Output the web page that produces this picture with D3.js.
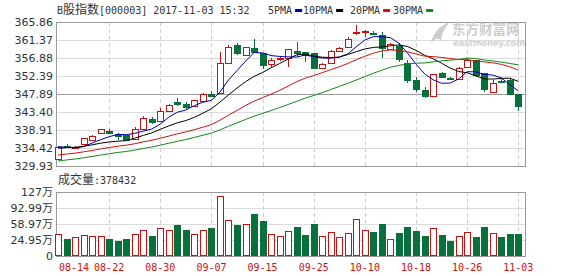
<!doctype html>
<html lang="zh">
<head>
<meta charset="utf-8">
<title>B股指数 日K</title>
<script src="https://d3js.org/d3.v7.min.js"></script>
<style>
    body { margin: 0; background: #fff; }
    svg { display: block; }
    text { font-family: "DejaVu Sans", "Noto Sans CJK SC", sans-serif; font-size: 11px; fill: #333; }
    .mono { font-family: "DejaVu Sans Mono", "Noto Sans CJK SC", monospace; font-size: 10px; }
    .cjk { font-family: "Noto Sans CJK SC", sans-serif; font-size: 12px; }
</style>
</head>
<body>
<div id="chart"></div>
<script>
// trading days shown (MM-DD)
const dates = ["08-14","08-15","08-16","08-17","08-18","08-21","08-22","08-23","08-24","08-25","08-28","08-29","08-30","08-31",
    "09-01","09-04","09-05","09-06","09-07","09-08","09-11","09-12","09-13","09-14","09-15","09-18","09-19","09-20","09-21","09-22",
    "09-25","09-26","09-27","09-28","09-29","10-09","10-10","10-11","10-12","10-13","10-16","10-17","10-18","10-19","10-20",
    "10-23","10-24","10-25","10-26","10-27","10-30","10-31","11-01","11-02","11-03"];

const opens = [331.68,334.92,334.37,335.35,336.42,338.09,338.66,337.92,337.59,336.74,339.09,341.58,341.16,343.73,346.02,
    345.40,344.98,346.15,347.90,348.07,355.56,360.12,357.63,359.30,358.05,355.31,356.63,357.00,358.70,358.30,
    358.05,354.31,355.56,358.70,359.55,363.04,363.44,363.12,362.74,359.05,359.87,355.56,351.39,348.89,347.47,
    353.21,351.96,351.56,354.71,356.38,353.06,348.47,351.26,351.39,347.82];
const closes = [334.75,334.55,334.62,336.84,337.42,339.09,338.22,337.54,336.42,339.09,341.83,340.84,343.65,345.15,345.28,
    344.58,346.40,347.82,347.52,355.56,359.70,358.05,359.55,358.30,355.13,356.38,356.95,359.05,358.05,357.63,
    354.31,355.38,358.70,359.45,361.62,363.44,363.69,362.87,359.37,360.37,356.55,351.39,349.07,347.40,352.81,
    352.21,351.56,354.31,356.38,352.64,349.07,350.72,350.89,347.82,344.90];
const highs = [334.92,335.42,334.92,336.92,337.67,339.16,339.04,338.17,337.67,339.74,342.41,342.16,344.33,345.40,347.02,
    345.97,346.52,348.02,348.64,358.30,360.12,360.55,359.62,361.54,358.13,356.80,357.13,359.12,360.94,358.37,
    358.13,355.51,358.87,359.70,362.19,365.11,363.74,363.61,363.44,360.55,360.55,356.38,352.06,349.72,352.89,
    353.46,352.21,354.71,356.80,356.50,353.14,351.39,351.56,351.81,347.90];
const lows = [331.43,334.30,334.17,335.30,336.17,338.04,337.79,336.42,336.29,336.67,339.04,340.41,341.03,343.65,344.90,
    344.08,344.90,346.02,347.22,347.95,355.31,357.63,357.50,358.05,354.06,354.71,356.13,354.71,357.20,355.95,
    354.26,354.26,355.26,358.62,359.50,362.62,362.19,362.62,356.88,359.00,355.95,350.72,348.47,346.82,347.22,
    351.89,351.39,351.39,354.63,352.21,348.47,348.39,350.57,347.77,343.73];
// volume, in 万
const volumes = [37.8,27.2,30.8,35.0,32.9,32.9,27.2,23.0,27.2,37.8,46.2,33.5,49.8,46.2,56.8,46.2,37.8,46.2,51.0,118.0,
    67.3,56.8,58.9,80.0,65.2,37.8,33.5,44.1,53.2,35.7,58.9,33.5,42.0,31.4,39.9,69.4,46.2,42.6,58.9,27.2,
    40.5,52.5,44.7,33.5,49.8,35.7,23.6,33.5,42.0,31.4,52.5,39.9,31.4,38.4,37.8432];
// closes before 08-14, estimated from where the MA lines start
const priorCloses = [326.9,327.5,327.2,328.1,328.6,327.9,328.4,329.0,328.7,329.5,
    329.8,330.4,330.1,330.9,331.3,330.7,331.5,331.2,332.0,332.2,
    333.1,333.6,334.2,334.0,334.85,335.2,335.6,335.1,333.1];

const priceTicks = [329.93,334.42,338.91,343.40,347.89,352.39,356.88,361.37,365.86];
const volTicks = [24.95,58.97,92.99,127.01];
const volTickLabels = ["24.95万","58.97万","92.99万","127万"];
const dateTicks = ["08-14","08-22","08-30","09-07","09-15","09-25","10-10","10-18","10-26","11-03"];
const maPeriods = [5, 10, 20, 30];
const maNames = ["5PMA","10PMA","20PMA","30PMA"];

const RED = "#cc1010", GREEN = "#08703a";
const maColors = ["#0000b4", "#000000", "#c81414", "#108a18"];

const W = 578, H = 276;
const left = 56, right = 525;
const pTop = 22, pBottom = 166, vTop = 192, vBottom = 256;

const svg = d3.select("#chart").append("svg")
    .attr("width", W)
    .attr("height", H);

const x = d3.scalePoint().domain(d3.range(dates.length)).range([58, 518.3]);
const y = d3.scaleLinear()
    .domain([priceTicks[0], priceTicks[priceTicks.length - 1]])
    .range([pBottom, pTop]);
const volStep = volTicks[1] - volTicks[0];
const yv = d3.scaleLinear()
    .domain([volTicks[0] - volStep, volTicks[volTicks.length - 1]])
    .range([vBottom, vTop]);

const px = v => Math.round(v) + 0.5;

// ---- grids
const grid = svg.append("g").attr("shape-rendering", "crispEdges");
const midTick = priceTicks[Math.floor(priceTicks.length / 2)];

grid.selectAll(".ph")
    .data(priceTicks)
    .join("line")
    .attr("x1", left).attr("x2", right)
    .attr("y1", d => px(y(d))).attr("y2", d => px(y(d)))
    .attr("stroke", d => d === midTick ? "#9a9a9a" : "#dcdcdc");

grid.selectAll(".vh")
    .data(volTicks.slice(0, -1))
    .join("line")
    .attr("x1", left).attr("x2", right)
    .attr("y1", d => px(yv(d))).attr("y2", d => px(yv(d)))
    .attr("stroke", "#dcdcdc");

const tickIdx = dateTicks.map(d => dates.indexOf(d));

[[pTop, pBottom], [vTop, vBottom]].forEach(([t, b]) => {
    grid.selectAll(null)
        .data(tickIdx.slice(1))
        .join("line")
        .attr("x1", i => px(x(i))).attr("x2", i => px(x(i)))
        .attr("y1", t).attr("y2", b)
        .attr("stroke", "#cfcfcf")
        .attr("stroke-dasharray", "4,3");
    grid.append("rect")
        .attr("x", left + 0.5).attr("y", t + 0.5)
        .attr("width", right - left).attr("height", b - t)
        .attr("fill", "none")
        .attr("stroke", "#9a9a9a");
});

// ---- watermark
const wm = svg.append("g").attr("fill", "#cdcdcd");
wm.append("path")
    .attr("d", "M431,43 C433,33 440,25 450,22 C445,27 442,33 441,41 C438,37 435,39 431,43 Z");
wm.append("text")
    .attr("x", 452).attr("y", 34)
    .style("font-family", "'Noto Sans CJK SC', sans-serif")
    .style("font-size", "13.5px")
    .style("font-weight", "bold")
    .style("fill", "#cdcdcd")
    .text("东方财富网");
wm.append("text")
    .attr("x", 453).attr("y", 46)
    .attr("textLength", 72)
    .style("font-size", "8.5px")
    .style("font-weight", "bold")
    .style("fill", "#d2d2d2")
    .text("eastmoney.com");

// ---- axis labels
svg.append("g").selectAll("text")
    .data(priceTicks)
    .join("text")
    .attr("x", 53)
    .attr("y", d => y(d))
    .attr("dy", "0.36em")
    .attr("text-anchor", "end")
    .text(d => d.toFixed(2));

svg.append("g").selectAll("text")
    .data(volTicks)
    .join("text")
    .attr("x", 53)
    .attr("y", d => yv(d))
    .attr("dy", "0.36em")
    .attr("text-anchor", "end")
    .text((d, i) => volTickLabels[i]);

svg.append("text")
    .attr("x", 53).attr("y", vBottom).attr("dy", "0.36em")
    .attr("text-anchor", "end")
    .text("0");

svg.append("g").selectAll("text")
    .data(tickIdx)
    .join("text")
    .attr("class", "mono")
    .attr("x", (i, k) => k === 0 ? x(i) + 1 : x(i))
    .attr("y", 271)
    .attr("text-anchor", (i, k) => k === 0 ? "start" : "middle")
    .style("fill", RED)
    .text(i => dates[i]);

// ---- candles
const isUp = i => closes[i] >= opens[i];
const candles = svg.append("g").attr("shape-rendering", "crispEdges")
    .selectAll("g")
    .data(d3.range(dates.length))
    .join("g");

candles.append("line")
    .attr("x1", i => px(x(i))).attr("x2", i => px(x(i)))
    .attr("y1", i => Math.round(y(highs[i])))
    .attr("y2", i => Math.round(y(lows[i])))
    .attr("stroke", i => isUp(i) ? RED : GREEN);

candles.append("rect")
    .attr("x", i => Math.round(x(i)) - 3 + 0.5)
    .attr("y", i => Math.round(y(Math.max(opens[i], closes[i]))) + 0.5)
    .attr("width", 6)
    .attr("height", i => Math.max(1, Math.round(y(Math.min(opens[i], closes[i]))) - Math.round(y(Math.max(opens[i], closes[i])))))
    .attr("fill", i => isUp(i) ? "#fff" : GREEN)
    .attr("stroke", i => isUp(i) ? RED : GREEN);

// ---- volume bars
svg.append("g").attr("shape-rendering", "crispEdges")
    .selectAll("rect")
    .data(volumes)
    .join("rect")
    .attr("x", (d, i) => Math.round(x(i)) - 3 + 0.5)
    .attr("y", d => Math.round(yv(d)) + 0.5)
    .attr("width", 6)
    .attr("height", d => vBottom - Math.round(yv(d)) - 1)
    .attr("fill", (d, i) => isUp(i) ? "#fff" : GREEN)
    .attr("stroke", (d, i) => isUp(i) ? RED : GREEN);

// ---- moving averages
const allCloses = priorCloses.concat(closes);
const off = priorCloses.length;
const line = d3.line().x((d, i) => x(i)).y(d => y(d));

maPeriods.forEach((n, k) => {
    const ma = closes.map((c, i) => d3.mean(allCloses.slice(off + i - n + 1, off + i + 1)));
    svg.append("path")
        .datum(ma)
        .attr("d", line)
        .attr("fill", "none")
        .attr("stroke", maColors[k])
        .attr("stroke-width", 1);
});

// ---- header
const head = svg.append("text").attr("class", "mono").attr("x", 57).attr("y", 14);
head.append("tspan").text("B");
head.append("tspan").attr("class", "cjk").text("股指数");
head.append("tspan").text("[000003] 2017-11-03 15:32");

const legendX = [268, 303, 350, 393];
maNames.forEach((name, k) => {
    const t = svg.append("text").attr("class", "mono")
        .attr("x", legendX[k]).attr("y", 14)
        .text(name);
    const w = t.node().getComputedTextLength();
    svg.append("rect")
        .attr("x", legendX[k] + w + 3).attr("y", 9)
        .attr("width", 7).attr("height", 3)
        .attr("fill", maColors[k]);
});

const vt = svg.append("text").attr("class", "mono").attr("x", 58).attr("y", 184);
vt.append("tspan").attr("class", "cjk").text("成交量");
vt.append("tspan").text(":" + Math.round(volumes[volumes.length - 1] * 10000));
</script>
</body>
</html>
